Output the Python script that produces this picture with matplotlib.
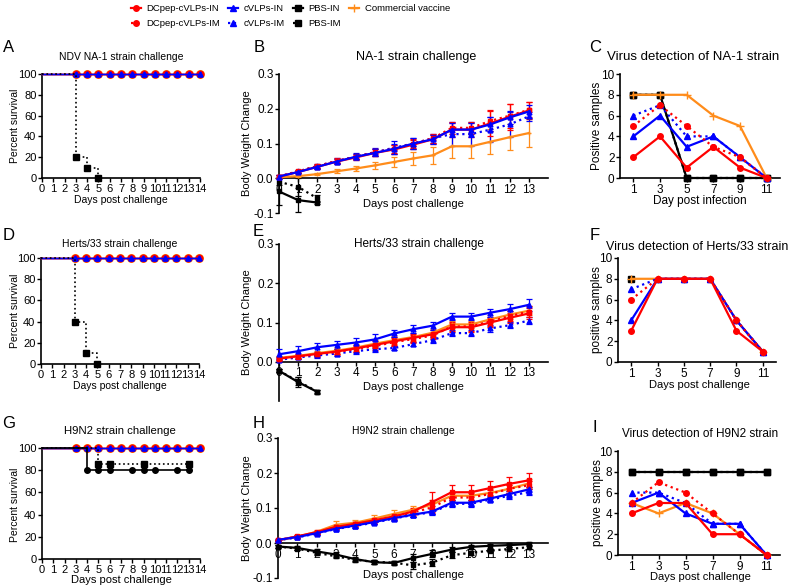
import numpy as np
import matplotlib.pyplot as plt
from matplotlib.lines import Line2D

plt.rcParams['font.family'] = ['Liberation Sans', 'DejaVu Sans']

W, H = 790, 586

RED = '#ff0000'
BLUE = '#0000ff'
ORANGE = '#ff8c1a'
BLACK = '#000000'

groups = ['DCpep-cVLPs-IN', 'DCpep-cVLPs-IM', 'cVLPs-IN', 'cVLPs-IM',
          'PBS-IN', 'PBS-IM', 'Commercial vaccine']
colors = [RED, RED, BLUE, BLUE, BLACK, BLACK, ORANGE]
lstyles = ['-', ':', '-', ':', '-', ':', '-']
markers = ['o', 'o', '^', '^', 's', 's', '+']

# ---- survival (A, D, G) ----
surv_days = [0, 3, 4, 5, 6, 7, 8, 9, 10, 11, 12, 13, 14]
vacc_surv = [100, 100, 100, 100, 100, 100, 100, 100, 100, 100, 100, 100, 100]

pbs_im_surv_days_a = [0, 3, 4, 5]
pbs_im_surv_a = [100, 20, 10, 0]
pbs_im_surv_days_d = [0, 3, 4, 5]
pbs_im_surv_d = [100, 40, 10, 0]
pbs_in_surv_days_g = [0, 4, 5, 6, 8, 9, 10, 12, 13]
pbs_in_surv_g = [100, 80, 80, 80, 80, 80, 80, 80, 80]
pbs_im_surv_days_g = [0, 5, 6, 9, 13]
pbs_im_surv_g = [100, 85.7, 85.7, 85.7, 85.7]

# ---- body weight change (B, E, H) ----
wdays = list(range(14))

bw_b = {
    'DCpep-cVLPs-IN': [0.005, 0.018, 0.033, 0.048, 0.060, 0.073, 0.083, 0.097, 0.112, 0.140, 0.140, 0.158, 0.177, 0.195],
    'DCpep-cVLPs-IM': [0.005, 0.020, 0.035, 0.050, 0.062, 0.075, 0.085, 0.100, 0.115, 0.145, 0.145, 0.165, 0.180, 0.197],
    'cVLPs-IN': [0.005, 0.018, 0.033, 0.048, 0.062, 0.073, 0.085, 0.100, 0.112, 0.140, 0.140, 0.155, 0.175, 0.192],
    'cVLPs-IM': [0.005, 0.020, 0.035, 0.050, 0.062, 0.075, 0.088, 0.100, 0.115, 0.127, 0.127, 0.140, 0.155, 0.178],
    'Commercial vaccine': [0.003, 0.006, 0.012, 0.020, 0.028, 0.037, 0.047, 0.057, 0.066, 0.092, 0.092, 0.105, 0.118, 0.130],
    'PBS-IN': [-0.038, -0.063, -0.070],
    'PBS-IM': [-0.010, -0.025, -0.058],
}
err_b = {
    'DCpep-cVLPs-IN': [0.003, 0.004, 0.006, 0.007, 0.008, 0.010, 0.012, 0.013, 0.013, 0.020, 0.020, 0.036, 0.038, 0.025],
    'DCpep-cVLPs-IM': [0.003, 0.004, 0.006, 0.007, 0.008, 0.010, 0.012, 0.013, 0.013, 0.018, 0.018, 0.030, 0.035, 0.022],
    'cVLPs-IN': [0.003, 0.004, 0.006, 0.007, 0.008, 0.010, 0.015, 0.015, 0.013, 0.020, 0.020, 0.020, 0.018, 0.020],
    'cVLPs-IM': [0.003, 0.004, 0.006, 0.007, 0.010, 0.012, 0.018, 0.015, 0.013, 0.035, 0.035, 0.035, 0.035, 0.012],
    'Commercial vaccine': [0.002, 0.003, 0.004, 0.006, 0.007, 0.010, 0.014, 0.019, 0.025, 0.035, 0.035, 0.036, 0.038, 0.040],
    'PBS-IN': [0.040, 0.035, 0.005],
    'PBS-IM': [0.010, 0.025, 0.010],
}

bw_e = {
    'DCpep-cVLPs-IN': [0.008, 0.014, 0.020, 0.026, 0.034, 0.043, 0.052, 0.061, 0.070, 0.088, 0.088, 0.100, 0.112, 0.123],
    'DCpep-cVLPs-IM': [0.008, 0.013, 0.019, 0.025, 0.032, 0.040, 0.050, 0.058, 0.067, 0.090, 0.090, 0.103, 0.116, 0.128],
    'cVLPs-IN': [0.019, 0.027, 0.037, 0.043, 0.049, 0.057, 0.072, 0.083, 0.092, 0.115, 0.115, 0.125, 0.134, 0.145],
    'cVLPs-IM': [0.005, 0.011, 0.016, 0.021, 0.027, 0.032, 0.035, 0.045, 0.055, 0.073, 0.073, 0.085, 0.093, 0.105],
    'Commercial vaccine': [0.010, 0.015, 0.022, 0.028, 0.036, 0.046, 0.055, 0.063, 0.074, 0.095, 0.095, 0.108, 0.120, 0.130],
    'PBS-IN': [-0.023, -0.052, -0.077],
    'PBS-IM': [-0.023, -0.050, -0.076],
}
err_e = {
    'DCpep-cVLPs-IN': [0.004, 0.005, 0.006, 0.007, 0.008, 0.009, 0.010, 0.010, 0.010, 0.012, 0.012, 0.012, 0.013, 0.015],
    'DCpep-cVLPs-IM': [0.004, 0.005, 0.006, 0.007, 0.008, 0.009, 0.010, 0.010, 0.010, 0.012, 0.012, 0.012, 0.013, 0.015],
    'cVLPs-IN': [0.013, 0.013, 0.012, 0.010, 0.012, 0.013, 0.010, 0.010, 0.010, 0.008, 0.008, 0.010, 0.012, 0.015],
    'cVLPs-IM': [0.004, 0.005, 0.006, 0.006, 0.007, 0.007, 0.006, 0.006, 0.007, 0.008, 0.008, 0.008, 0.008, 0.010],
    'Commercial vaccine': [0.004, 0.005, 0.006, 0.007, 0.008, 0.009, 0.010, 0.010, 0.010, 0.010, 0.010, 0.010, 0.010, 0.012],
    'PBS-IN': [0.004, 0.012, 0.004],
    'PBS-IM': [0.004, 0.010, 0.004],
}

bw_h = {
    'DCpep-cVLPs-IN': [0.008, 0.019, 0.031, 0.046, 0.055, 0.065, 0.076, 0.090, 0.117, 0.145, 0.145, 0.157, 0.169, 0.179],
    'DCpep-cVLPs-IM': [0.008, 0.018, 0.030, 0.045, 0.053, 0.062, 0.073, 0.087, 0.102, 0.130, 0.130, 0.140, 0.155, 0.165],
    'cVLPs-IN': [0.009, 0.017, 0.028, 0.041, 0.050, 0.060, 0.071, 0.081, 0.090, 0.115, 0.115, 0.127, 0.140, 0.153],
    'cVLPs-IM': [0.008, 0.016, 0.027, 0.040, 0.049, 0.058, 0.070, 0.080, 0.088, 0.112, 0.112, 0.124, 0.135, 0.145],
    'Commercial vaccine': [0.008, 0.018, 0.032, 0.052, 0.058, 0.070, 0.083, 0.095, 0.110, 0.135, 0.135, 0.143, 0.155, 0.170],
    'PBS-IN': [-0.010, -0.014, -0.024, -0.033, -0.046, -0.055, -0.057, -0.043, -0.031, -0.019, -0.011, -0.008, -0.006, -0.003],
    'PBS-IM': [-0.010, -0.016, -0.028, -0.038, -0.048, -0.054, -0.056, -0.064, -0.056, -0.035, -0.028, -0.022, -0.017, -0.012],
}
err_h = {
    'DCpep-cVLPs-IN': [0.002, 0.003, 0.004, 0.005, 0.006, 0.007, 0.008, 0.010, 0.028, 0.022, 0.022, 0.020, 0.020, 0.020],
    'DCpep-cVLPs-IM': [0.002, 0.003, 0.004, 0.005, 0.006, 0.007, 0.008, 0.010, 0.015, 0.012, 0.012, 0.012, 0.012, 0.012],
    'cVLPs-IN': [0.002, 0.003, 0.004, 0.004, 0.005, 0.005, 0.006, 0.006, 0.007, 0.008, 0.008, 0.008, 0.008, 0.008],
    'cVLPs-IM': [0.002, 0.003, 0.004, 0.004, 0.005, 0.005, 0.006, 0.006, 0.007, 0.008, 0.008, 0.008, 0.008, 0.008],
    'Commercial vaccine': [0.002, 0.004, 0.006, 0.012, 0.008, 0.010, 0.010, 0.010, 0.012, 0.012, 0.012, 0.012, 0.012, 0.012],
    'PBS-IN': [0.003, 0.005, 0.006, 0.006, 0.006, 0.006, 0.005, 0.012, 0.010, 0.008, 0.006, 0.005, 0.005, 0.005],
    'PBS-IM': [0.003, 0.005, 0.006, 0.006, 0.006, 0.006, 0.005, 0.010, 0.010, 0.008, 0.006, 0.005, 0.005, 0.005],
}

# ---- virus detection (C, F, I) ----
vd_days = [1, 3, 5, 7, 9, 11]
vd_c = {
    'PBS-IN': [8, 8, 0, 0, 0, 0],
    'PBS-IM': [8, 8, 0, 0, 0, 0],
    'Commercial vaccine': [8, 8, 8, 6, 5, 0],
    'cVLPs-IM': [6, 7, 4, 4, 2, 0],
    'cVLPs-IN': [4, 6, 3, 4, 2, 0],
    'DCpep-cVLPs-IM': [5, 7, 5, 3, 2, 0],
    'DCpep-cVLPs-IN': [2, 4, 1, 3, 1, 0],
}
vd_f = {
    'PBS-IN': [8],
    'Commercial vaccine': [8, 8, 8, 8, 4, 1],
    'cVLPs-IM': [7, 8, 8, 8, 4, 1],
    'cVLPs-IN': [4, 8, 8, 8, 4, 1],
    'DCpep-cVLPs-IM': [6, 8, 8, 8, 4, 1],
    'DCpep-cVLPs-IN': [3, 8, 8, 8, 3, 1],
}
vd_i = {
    'PBS-IM': [8, 8, 8, 8, 8, 8],
    'PBS-IN': [8, 8, 8, 8, 8, 8],
    'Commercial vaccine': [5, 4, 5, 4, 2, 0],
    'cVLPs-IM': [6, 6, 5, 3, 3, 0],
    'cVLPs-IN': [5, 6, 4, 3, 3, 0],
    'DCpep-cVLPs-IM': [5, 7, 6, 4, 2, 0],
    'DCpep-cVLPs-IN': [4, 5, 5, 2, 2, 0],
}

sty = {g: (c, ls, m) for g, c, ls, m in zip(groups, colors, lstyles, markers)}

fig = plt.figure(figsize=(W / 100, H / 100), dpi=100)


def add_ax(l, t, r, b):
    return fig.add_axes([l / W, 1 - b / H, (r - l) / W, (b - t) / H])


def ftext(x, y, s, **kw):
    fig.text(x / W, 1 - y / H, s, **kw)


def base_style(ax, size=8):
    for s in ['top', 'right']:
        ax.spines[s].set_visible(False)
    for s in ['left', 'bottom']:
        ax.spines[s].set_linewidth(1.2)
    ax.tick_params(direction='out', length=3, width=1, labelsize=size, pad=1)


# survival panels
def survival(ax, pbs):
    for g in ['Commercial vaccine', 'DCpep-cVLPs-IM', 'DCpep-cVLPs-IN', 'cVLPs-IM', 'cVLPs-IN']:
        c, ls, m = sty[g]
        if g == 'Commercial vaccine':
            ax.plot(surv_days, vacc_surv, color=c, lw=1, marker='o', ms=5.5,
                    markevery=list(range(1, 13)), clip_on=False, zorder=3)
        elif g.startswith('DCpep'):
            ax.plot(surv_days, vacc_surv, color=c, lw=1, marker='o', ms=4.5,
                    markevery=list(range(1, 13)), clip_on=False, zorder=4)
        else:
            ax.plot(surv_days, vacc_surv, color=c, lw=1, marker='^', ms=3.5,
                    markevery=list(range(1, 13)), clip_on=False, zorder=5)
    for g, d, v in pbs:
        c, ls, m = sty[g]
        mk = 'o' if g == 'PBS-IN' else 's'
        ax.plot(d, v, color=c, ls=ls, lw=1.2, drawstyle='steps-post', marker=mk, ms=4,
                markevery=list(range(1, len(d))), clip_on=False, zorder=6)
    ax.set_xlim(0, 14)
    ax.set_ylim(0, 100)
    ax.set_xticks(range(15))
    ax.set_yticks([0, 20, 40, 60, 80, 100])
    base_style(ax, 8)


axA = add_ax(42, 74, 200, 178)
survival(axA, [('PBS-IM', pbs_im_surv_days_a, pbs_im_surv_a)])
axD = add_ax(41, 258, 199, 364)
survival(axD, [('PBS-IM', pbs_im_surv_days_d, pbs_im_surv_d)])
axG = add_ax(42, 448, 200, 559)
survival(axG, [('PBS-IN', pbs_in_surv_days_g, pbs_in_surv_g),
               ('PBS-IM', pbs_im_surv_days_g, pbs_im_surv_g)])


# body weight panels
def weight(ax, data, err, label_neg=True):
    order = ['PBS-IM', 'PBS-IN', 'Commercial vaccine', 'cVLPs-IM', 'DCpep-cVLPs-IM', 'DCpep-cVLPs-IN', 'cVLPs-IN']
    for g in order:
        c, ls, m = sty[g]
        y = data[g]
        x = wdays[:len(y)]
        mk = 's' if (g.startswith('PBS') or g.startswith('DCpep')) else ('^' if g.startswith('cVLPs') else '+')
        ax.errorbar(x, y, yerr=err[g], color=c, ls=ls, lw=1.6, marker=mk, ms=3.5,
                    elinewidth=0.9, capsize=2, capthick=0.9, clip_on=False, zorder=3)
    ax.set_xlim(0, 14)
    ax.set_ylim(-0.1, 0.3)
    ax.spines['bottom'].set_position(('data', 0))
    ax.set_xticks(range(14))
    if label_neg:
        ax.set_yticks([-0.1, 0.0, 0.1, 0.2, 0.3])
        ax.set_yticklabels(['-0.1', '0.0', '0.1', '0.2', '0.3'])
    else:
        ax.set_yticks([0.0, 0.1, 0.2, 0.3])
        ax.set_yticklabels(['0.0', '0.1', '0.2', '0.3'])
    base_style(ax, 8.5)


axB = add_ax(279, 74, 548, 213)
weight(axB, bw_b, err_b)
axE = add_ax(279, 244, 548, 401)
weight(axE, bw_e, err_e, label_neg=False)
axH = add_ax(278, 438, 548, 578)
weight(axH, bw_h, err_h)


# virus detection panels
def detection(ax, data):
    for g, y in data.items():
        c, ls, m = sty[g]
        x = vd_days[:len(y)]
        ms = 6 if m == '+' else 4
        ax.plot(x, y, color=c, ls=ls, lw=1.6, marker=m, ms=ms, clip_on=False, zorder=3)
    ax.set_xlim(0, 12)
    ax.set_ylim(0, 10)
    ax.set_xticks(vd_days)
    ax.set_yticks([0, 2, 4, 6, 8, 10])
    base_style(ax, 8.5)


axC = add_ax(620, 74, 780, 178)
detection(axC, vd_c)
axF = add_ax(618, 258, 776, 362)
detection(axF, vd_f)
axI = add_ax(618, 451, 780, 555)
detection(axI, vd_i)

# titles, labels, panel letters
ftext(121, 57, 'NDV NA-1 strain challenge', fontsize=7.5, ha='center', va='center')
ftext(416, 57, 'NA-1 strain challenge', fontsize=9, ha='center', va='center')
ftext(120, 244, 'Herts/33 strain challenge', fontsize=7.5, ha='center', va='center')
ftext(419, 244, 'Herts/33 strain challenge', fontsize=8.5, ha='center', va='center')
ftext(120, 431, 'H9N2 strain challenge', fontsize=8.2, ha='center', va='center')
ftext(403, 431, 'H9N2 strain challenge', fontsize=7.5, ha='center', va='center')
ftext(693, 57, 'Virus detection of NA-1 strain', fontsize=9.5, ha='center', va='center')
ftext(697, 247, 'Virus detection of Herts/33 strain', fontsize=9, ha='center', va='center')
ftext(700, 434, 'Virus detection of H9N2 strain', fontsize=8.5, ha='center', va='center')

for x, y, fs in [(121, 200, 7.5), (120, 386, 7.5), (121, 580, 8), (413, 204, 8),
                 (413, 387, 8), (413, 575, 8), (699, 385, 8), (700, 577, 8)]:
    ftext(x, y, 'Days post challenge', fontsize=fs, ha='center', va='center')
ftext(700, 201, 'Day post infection', fontsize=8.5, ha='center', va='center')

for y in [126, 311, 505]:
    ftext(15, y, 'Percent survival', fontsize=7.5, ha='center', va='center', rotation=90)
for y in [143, 322, 508]:
    ftext(247, y, 'Body Weight Change', fontsize=8, ha='center', va='center', rotation=90)
ftext(597, 126, 'Positive samples', fontsize=8.5, ha='center', va='center', rotation=90)
ftext(597, 310, 'positive samples', fontsize=8.5, ha='center', va='center', rotation=90)
ftext(598, 503, 'positive samples', fontsize=8.5, ha='center', va='center', rotation=90)

for s, x, y in [('A', 9, 48), ('B', 259, 48), ('C', 595, 48),
                ('D', 9, 236), ('E', 258, 231), ('F', 595, 235),
                ('G', 9, 424), ('H', 259, 424), ('I', 595, 427)]:
    ftext(x, y, s, fontsize=12, ha='center', va='center')

# legend
handles = []
for g in groups:
    c, ls, m = sty[g]
    handles.append(Line2D([], [], color=c, ls=ls, lw=1.6, marker=m, ms=4 if m != '+' else 6))
fig.legend(handles, groups, ncol=4, loc='upper left', bbox_to_anchor=(122 / W, 1.008),
           frameon=False, fontsize=6.8, handlelength=1.1, handletextpad=0.6,
           columnspacing=0.8, labelspacing=0.7)

fig.savefig('out.png', dpi=100)
